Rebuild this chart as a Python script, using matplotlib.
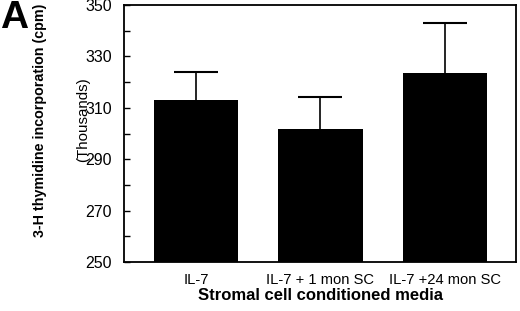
import matplotlib
matplotlib.use("Agg")
import matplotlib.pyplot as plt
from matplotlib.ticker import MultipleLocator

categories = ["IL-7", "IL-7 + 1 mon SC", "IL-7 +24 mon SC"]
values = [313.0, 301.6, 323.7]
errors = [11.0, 12.7, 19.4]
yticks = [250, 270, 290, 310, 330, 350]

plt.rcParams['font.family'] = ['Liberation Sans', 'DejaVu Sans']

fig = plt.figure(figsize=(5.2, 3.11), dpi=100)
ax = fig.add_axes([124/520, 1-262/311, (516-124)/520, (262-5)/311])

x = list(range(len(categories)))
ax.bar(x, [v - 250 for v in values], bottom=250, width=0.675, color='black',
       zorder=2)
eb = ax.errorbar(x, values, yerr=[[0]*len(errors), errors], fmt='none',
                 ecolor='black', elinewidth=1.2, capsize=15.5, capthick=1.5,
                 zorder=1)
caps = eb[1]
if len(caps) >= 2:
    caps[0].set_visible(False)

ax.set_xlim(-0.578, 2.57)
ax.set_ylim(250, 350)
ax.set_yticks(yticks)
ax.yaxis.set_minor_locator(MultipleLocator(10))
ax.set_xticks(x)
ax.set_xticklabels(categories, fontsize=10.6)
ax.tick_params(axis='x', length=0, pad=8)
ax.tick_params(axis='y', which='both', direction='in', length=4, width=1,
               labelsize=11.5, pad=8.5)
for s in ax.spines.values():
    s.set_linewidth(1.3)

ax.set_xlabel("Stromal cell conditioned media", fontsize=12, fontweight='bold',
              labelpad=1)
fig.text(40/520, 1-120/311, "3-H thymidine incorporation (cpm)", rotation=90,
         ha='center', va='center', fontsize=10.3, fontweight='bold')
fig.text(83/520, 1-120/311, "(Thousands)", rotation=90, ha='center',
         va='center', fontsize=10.9)
fig.text(0, 1-0/311, "A", ha='left', va='top', fontsize=28, fontweight='bold')

fig.savefig("out.png", dpi=100)
